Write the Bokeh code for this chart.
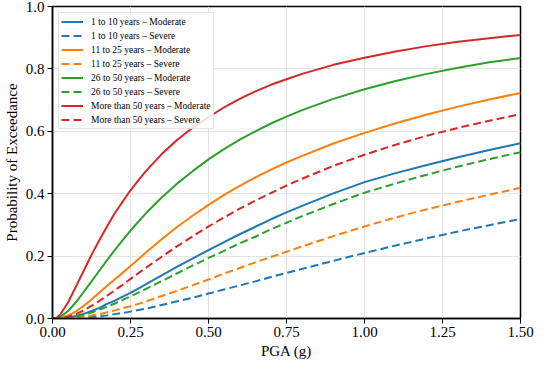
from bokeh.plotting import figure
from bokeh.models import FixedTicker, Range1d, PrintfTickFormatter
from bokeh.embed import file_html
from bokeh.resources import INLINE

pga = [0.0, 0.0125, 0.025, 0.05, 0.075, 0.1, 0.125, 0.15, 0.175, 0.2, 0.225, 0.25, 0.275,
       0.3, 0.35, 0.4, 0.45, 0.5, 0.55, 0.6, 0.65, 0.7, 0.75, 0.8, 0.9, 1.0, 1.1, 1.2,
       1.3, 1.4, 1.5]

y1_10_mod = [0, 0, 0, 0.003, 0.008, 0.015, 0.024, 0.034, 0.047, 0.057, 0.070, 0.082, 0.096,
             0.11, 0.138, 0.166, 0.193, 0.219, 0.245, 0.27, 0.294, 0.318, 0.340, 0.361,
             0.401, 0.437, 0.466, 0.492, 0.517, 0.54, 0.562]
y1_10_sev = [0, 0, 0, 0.0003, 0.001, 0.0025, 0.0045, 0.007, 0.010, 0.014, 0.018, 0.022, 0.027,
             0.032, 0.043, 0.055, 0.067, 0.080, 0.093, 0.106, 0.119, 0.133, 0.146, 0.159,
             0.185, 0.210, 0.234, 0.257, 0.279, 0.299, 0.319]
y11_25_mod = [0, 0, 0.0016, 0.0095, 0.023, 0.041, 0.061, 0.083, 0.105, 0.126, 0.147, 0.168, 0.190,
              0.212, 0.254, 0.294, 0.330, 0.364, 0.396, 0.425, 0.452, 0.477, 0.500, 0.521,
              0.561, 0.595, 0.626, 0.654, 0.679, 0.702, 0.723]
y11_25_sev = [0, 0, 0, 0.001, 0.0027, 0.0056, 0.0095, 0.014, 0.020, 0.026, 0.033, 0.039, 0.047,
              0.055, 0.072, 0.089, 0.107, 0.125, 0.144, 0.162, 0.180, 0.197, 0.214, 0.231,
              0.264, 0.295, 0.324, 0.350, 0.374, 0.397, 0.419]
y26_50_mod = [0, 0.0005, 0.005, 0.024, 0.052, 0.085, 0.119, 0.153, 0.187, 0.220, 0.251, 0.282, 0.310,
              0.338, 0.388, 0.433, 0.473, 0.510, 0.543, 0.573, 0.600, 0.625, 0.647, 0.668,
              0.704, 0.735, 0.761, 0.784, 0.804, 0.821, 0.835]
y26_50_sev = [0, 0, 0, 0.002, 0.006, 0.012, 0.019, 0.028, 0.038, 0.048, 0.0595, 0.071, 0.083,
              0.095, 0.120, 0.145, 0.170, 0.194, 0.217, 0.241, 0.262, 0.286, 0.307, 0.328,
              0.367, 0.403, 0.433, 0.461, 0.487, 0.511, 0.533]
y50_mod = [0, 0.002, 0.013, 0.052, 0.102, 0.153, 0.204, 0.251, 0.296, 0.338, 0.375, 0.411, 0.443,
           0.473, 0.527, 0.573, 0.612, 0.645, 0.677, 0.704, 0.728, 0.749, 0.767, 0.784,
           0.813, 0.836, 0.856, 0.873, 0.887, 0.898, 0.909]
y50_sev = [0, 0, 0.001, 0.0055, 0.014, 0.026, 0.0405, 0.056, 0.073, 0.091, 0.108, 0.127, 0.145,
           0.163, 0.198, 0.232, 0.264, 0.295, 0.324, 0.352, 0.378, 0.402, 0.426, 0.448,
           0.489, 0.525, 0.557, 0.586, 0.611, 0.634, 0.655]

series = [
    ("1 to 10 years \u2013 Moderate", y1_10_mod, "#1f77b4", "solid"),
    ("1 to 10 years \u2013 Severe", y1_10_sev, "#1f77b4", "8 4"),
    ("11 to 25 years \u2013 Moderate", y11_25_mod, "#ff7f0e", "solid"),
    ("11 to 25 years \u2013 Severe", y11_25_sev, "#ff7f0e", "8 4"),
    ("26 to 50 years \u2013 Moderate", y26_50_mod, "#2ca02c", "solid"),
    ("26 to 50 years \u2013 Severe", y26_50_sev, "#2ca02c", "8 4"),
    ("More than 50 years \u2013 Moderate", y50_mod, "#d62728", "solid"),
    ("More than 50 years \u2013 Severe", y50_sev, "#d62728", "8 4"),
]

x_ticks = [0.0, 0.25, 0.5, 0.75, 1.0, 1.25, 1.5]
y_ticks = [0.0, 0.2, 0.4, 0.6, 0.8, 1.0]

FONT = "Liberation Serif"

p = figure(width=534, height=362, output_backend="svg", toolbar_location=None,
           x_range=Range1d(0, 1.5), y_range=Range1d(0, 1.0),
           min_border_left=47, min_border_top=6, min_border_right=14, min_border_bottom=44)

for label, ys, color, dash in series:
    p.line(pga, ys, line_color=color, line_width=2, line_dash=dash,
           line_join="round", line_cap="butt", legend_label=label)

p.xaxis.ticker = FixedTicker(ticks=x_ticks)
p.yaxis.ticker = FixedTicker(ticks=y_ticks)
p.xaxis.formatter = PrintfTickFormatter(format="%.2f")
p.yaxis.formatter = PrintfTickFormatter(format="%.1f")
p.xaxis.axis_label = "PGA (g)"
p.yaxis.axis_label = "Probability of Exceedance"
for ax in (p.xaxis, p.yaxis):
    ax.axis_label_text_font = FONT
    ax.axis_label_text_font_style = "normal"
    ax.axis_label_text_font_size = "15px"
    ax.axis_label_text_color = "black"
    ax.major_label_text_font = FONT
    ax.major_label_text_font_size = "15px"
    ax.major_label_text_color = "black"
    ax.major_tick_out = 5
    ax.major_tick_in = 0
    ax.minor_tick_out = 0
    ax.minor_tick_in = 0
    ax.axis_line_color = "black"
    ax.axis_line_width = 1.5
    ax.major_tick_line_color = "black"
    ax.major_tick_line_width = 1
    ax.axis_label_standoff = 3
    ax.major_label_standoff = 3

p.xgrid.grid_line_color = "#e3e3e3"
p.ygrid.grid_line_color = "#e3e3e3"
p.xgrid.grid_line_width = 1
p.ygrid.grid_line_width = 1
p.outline_line_color = "black"
p.outline_line_width = 1.5
p.outline_line_alpha = 1

lg = p.legend[0]
lg.location = "top_left"
lg.margin = 6
lg.padding = 2
lg.spacing = 1
lg.glyph_width = 22
lg.glyph_height = 13
lg.label_height = 13
lg.label_standoff = 8
lg.label_text_font = FONT
lg.label_text_font_size = "9.5px"
lg.label_text_color = "black"
lg.border_line_color = "#cccccc"
lg.border_line_width = 1
lg.background_fill_alpha = 0.85

open("out.html", "w").write(file_html(p, INLINE))
